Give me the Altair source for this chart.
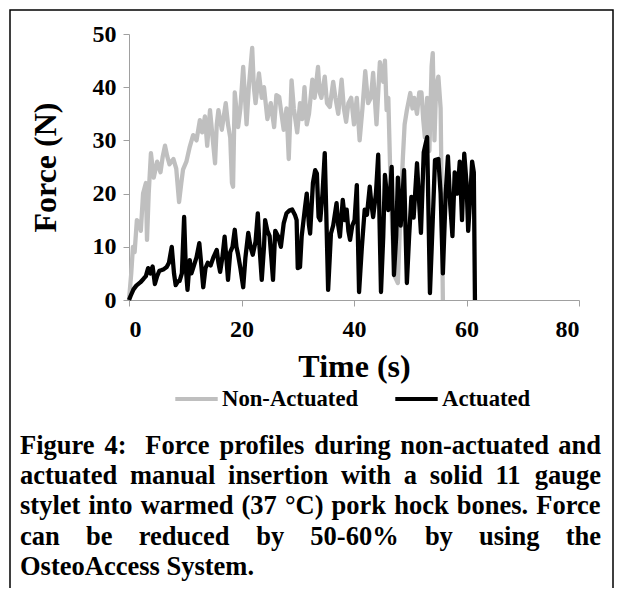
import altair as alt
import pandas as pd

# ---------------- data ----------------
t_non = [0, 0.4, 0.7, 1.0, 1.4, 1.8, 2.1, 2.5, 3.0, 3.2, 3.5, 3.9, 4.4, 5.0, 5.6, 6.0, 6.4, 6.8,
         7.2, 7.9, 8.4, 8.9, 9.3, 9.6, 10.2, 10.8, 11.4, 12.0, 12.6, 13.0, 13.5, 13.9, 14.4,
         15.0, 15.3, 15.6, 15.9, 16.5, 17.2, 17.6, 18.0, 18.3, 18.5, 18.8, 19.4, 19.8, 20.3,
         20.9, 21.3, 21.9, 22.2, 22.5, 23.1, 23.6, 24.0, 24.6, 25.2, 25.8, 26.2, 26.7, 27.1,
         27.5, 28.0, 28.4, 28.9, 29.3, 29.9, 30.4, 30.8, 31.2, 31.6, 32.0, 32.6, 33.0, 33.6,
         33.9, 34.2, 34.8, 35.2, 35.7, 36.3, 36.7, 37.2, 37.8, 38.2, 38.6, 39.0, 39.5, 40.0,
         40.5, 41.0, 41.5, 42.0, 42.5, 43.0, 43.4, 44.0, 44.6, 45.2, 45.5, 45.8, 46.1, 46.4,
         46.8, 47.3, 47.8, 48.2, 48.7, 49.0, 49.4, 50.0, 50.4, 50.7, 51.2, 51.6, 52.0, 52.3,
         52.6, 53.0, 53.4, 53.8, 54.0, 54.3, 54.6, 55.0, 55.4, 55.8]
f_non = [0, 5, 10, 9, 15, 14.5, 13, 20, 22, 11.3, 20, 27.6, 23, 26, 24, 27, 29, 27,
         25.5, 26.5, 24.7, 18.4, 22, 24.5, 26, 28.8, 31, 30, 33.8, 31.5, 34.5, 29, 35.7,
         29, 25.7, 33, 35.7, 32, 37, 33, 30.5, 22, 21.3, 39, 32.5, 36, 43.8,
         33, 40, 47.4, 40, 37, 42.6, 38, 40, 34, 37, 32.5, 38.5, 38.2, 35,
         32, 36, 26.5, 41.3, 36, 31.5, 37, 34, 40, 33, 35, 41.4, 38, 43.8,
         39, 38, 42, 37, 36.3, 41, 38, 35, 41.4, 36, 33.5, 37, 38, 33,
         38, 30, 36, 43, 37, 38, 42.7, 33, 44.7, 41, 45, 35.7, 38, 25.7,
         13, 4.3, 3.2, 15, 27, 33, 35.7, 38.9, 36, 38, 35, 39, 39, 34,
         30.6, 38, 28, 44, 46.4, 30, 40, 42, 36, 0]

t_act = [0, 0.3, 0.8, 1.3, 2.0, 2.6, 3.0, 3.4, 3.8, 4.2, 4.6, 5.0, 5.4, 5.7, 6.2, 6.7, 7.1,
         7.6, 8.0, 8.3, 8.7, 9.0, 9.4, 9.8, 10.1, 10.4, 10.8, 11.1, 11.4, 12.0, 12.5, 12.9,
         13.2, 13.6, 14.0, 14.5, 15.0, 15.6, 15.9, 16.2, 16.6, 17.0, 17.3, 17.6, 18.0, 18.4,
         18.8, 19.1, 19.4, 19.8, 20.3, 20.7, 21.2, 21.6, 22.0, 22.5, 22.9, 23.2, 23.6, 24.0,
         24.2, 24.6, 25.0, 25.3, 25.6, 26.0, 26.5, 27.0, 27.5, 28.0, 28.5, 29.0, 29.5, 29.8,
         30.0, 30.4, 30.7, 31.3, 31.6, 32.0, 32.2, 32.7, 33.1, 33.4, 33.7, 34.0, 34.4, 34.8,
         35.1, 35.4, 35.9, 36.3, 36.9, 37.2, 37.5, 38.0, 38.4, 38.7, 39.0, 39.3, 39.7, 40.1,
         40.5, 40.9, 41.4, 41.9, 42.3, 42.8, 43.1, 43.4, 43.9, 44.3, 44.8, 45.2, 45.5, 46.1,
         46.4, 46.7, 47.1, 47.5, 47.8, 48.3, 48.9, 49.4, 49.8, 50.2, 50.6, 51.2, 51.6, 51.9,
         52.4, 53.0, 53.5, 54.0, 54.4, 55.0, 55.4, 55.8, 56.3, 56.7, 57.1, 57.5, 57.9, 58.4,
         58.8, 59.2, 59.6, 60.0, 60.3, 60.7, 61.0, 61.3, 61.5]
f_act = [0, 0.8, 2, 2.7, 3.3, 4, 4.5, 6, 5, 6.3, 3, 4.5, 5.5, 5.6, 5.8, 6.2, 7,
         10, 5, 2.8, 3.5, 3.6, 5, 15.6, 6, 1.9, 7.5, 5, 6, 8, 10.7, 6,
         2.4, 6, 7, 6.5, 8, 9.4, 7, 5.3, 8, 11.9, 8, 3.8, 9, 10,
         13.2, 10, 8.5, 6, 2.4, 8, 12.6, 10, 8.5, 11, 16.3, 10, 3.8, 10,
         15, 13, 12, 8, 3.8, 13, 12, 10, 14.4, 16.3, 16.8, 17, 16, 15,
         6, 6.2, 12, 17.5, 20, 14, 12.5, 22, 24.4, 23.8, 15.6, 15, 20, 27.6,
         15, 1.9, 12.5, 14, 18.2, 14, 11.9, 18.8, 15, 17, 13, 11.3, 14, 15,
         21.6, 1.5, 10, 17, 16, 21.3, 18, 15.6, 20, 27.3, 1.5, 12, 23.5, 16.9,
         20, 25, 4.7, 12, 23, 14, 24.4, 3.2, 12, 19.4, 15.5, 25.7, 18, 12.6,
         27.8, 30.6, 1.3, 15, 26.3, 26.5, 20, 5, 20, 27, 18, 12, 24, 20,
         26, 15, 27.5, 22, 13, 20, 26, 24, 0]

series_names = ["Non-Actuated", "Actuated"]
series_colors = ["#BFBFBF", "#000000"]
x_ticks = [0, 20, 40, 60, 80]
y_ticks = [0, 10, 20, 30, 40, 50]
x_title = "Time (s)"
y_title = "Force (N)"
caption_lines = [
    "Figure 4:  Force profiles during non-actuated and",
    "actuated manual insertion with a solid 11 gauge",
    "stylet into warmed (37 °C) pork hock bones. Force",
    "can be reduced by 50-60% by using the",
    "OsteoAccess System.",
]

# ---------------- layout ----------------
PAD_L, PAD_T = 121, 26
W, H = 450, 266
TOTAL_W, TOTAL_H = 606, 580
SERIF = "Liberation Serif"

df_non = pd.DataFrame({"t": t_non, "f": f_non, "series": series_names[0]})
df_act = pd.DataFrame({"t": t_act, "f": f_act, "series": series_names[1]})

color_scale = alt.Scale(domain=series_names, range=series_colors)

x_enc = alt.X("t:Q", scale=alt.Scale(domain=[0, 80], nice=False, zero=False),
              axis=alt.Axis(values=x_ticks, title=x_title, titleX=W / 2, titleY=66,
                            titleBaseline="middle", titleAlign="center"))
y_enc = alt.Y("f:Q", scale=alt.Scale(domain=[0, 50], nice=False),
              axis=alt.Axis(values=y_ticks, title=y_title, titleX=-84, titleY=H / 2,
                            titleAngle=270, titleBaseline="middle", titleAlign="center"))
color_enc = alt.Color("series:N", scale=color_scale,
                      legend=alt.Legend(orient="none", legendX=44, legendY=341,
                                        direction="horizontal", title=None,
                                        symbolType="stroke", symbolSize=1800,
                                        symbolStrokeWidth=4, labelFont=SERIF,
                                        labelFontWeight="bold", labelFontSize=22.7,
                                        labelColor="black", labelOffset=2,
                                        columnPadding=28, labelLimit=400))

line_non = alt.Chart(df_non).mark_line(strokeWidth=4.3, strokeJoin="round").encode(
    x=x_enc, y=y_enc, color=color_enc)
line_act = alt.Chart(df_act).mark_line(strokeWidth=4.3, strokeJoin="round").encode(
    x="t:Q", y="f:Q", color="series:N")

dummy = pd.DataFrame({"a": [0]})
box = alt.Chart(dummy).mark_rect(filled=False, stroke="black", strokeWidth=1.5).encode(
    x=alt.value(-119), x2=alt.value(484), y=alt.value(-24), y2=alt.value(575))

# justified caption (Times-bold metric widths)
WID = {' ': 250, '(': 333, ')': 333, '%': 1000, '-': 333, '.': 250, ':': 333, '°': 400,
       'A': 722, 'C': 722, 'F': 611, 'O': 778, 'S': 556, 'T': 667, 'N': 722,
       'a': 500, 'b': 556, 'c': 444, 'd': 556, 'e': 444, 'f': 333, 'g': 500, 'h': 556,
       'i': 278, 'j': 333, 'k': 556, 'l': 278, 'm': 833, 'n': 556, 'o': 500, 'p': 556,
       'q': 556, 'r': 444, 's': 389, 't': 333, 'u': 556, 'v': 500, 'w': 722, 'x': 500,
       'y': 500, 'z': 444}
CAP_FS = 26.5
def tw(s):
    return sum(WID.get(c, 500) for c in s) / 1000 * CAP_FS

cap_left = 20 - 8 - PAD_L
cap_right = 601 - 8 - PAD_L
cap_base = [454, 484, 514, 545, 575]
layers = [box, line_non, line_act]
for i, line in enumerate(caption_lines):
    y = cap_base[i] - 8 - PAD_T
    if i < len(caption_lines) - 1:
        words = line.split(" ")
        total = sum(tw(w) for w in words)
        gap = (cap_right - cap_left - total) / (len(words) - 1)
        x = cap_left
        for w in words:
            if w:
                layers.append(alt.Chart(dummy).mark_text(
                    align="left", baseline="alphabetic", font=SERIF, fontWeight="bold",
                    fontSize=CAP_FS, color="black").encode(
                    x=alt.value(x), y=alt.value(y), text=alt.value(w)))
            x += tw(w) + gap
    else:
        layers.append(alt.Chart(dummy).mark_text(
            align="left", baseline="alphabetic", font=SERIF, fontWeight="bold",
            fontSize=CAP_FS, color="black").encode(
            x=alt.value(cap_left), y=alt.value(y), text=alt.value(line)))

chart = alt.layer(*layers).properties(
    width=W, height=H,
    autosize=alt.AutoSizeParams(type="none"),
    padding={"left": PAD_L, "top": PAD_T, "right": TOTAL_W - PAD_L - W,
             "bottom": TOTAL_H - PAD_T - H},
).configure_view(stroke=None).configure_axis(
    domainColor="#A0A0A0", tickColor="#A0A0A0", tickSize=6, grid=False,
    labelFont=SERIF, labelFontWeight="bold", labelFontSize=24, labelColor="black",
    titleFont=SERIF, titleFontWeight="bold", titleFontSize=32, titleColor="black",
).configure_axisX(labelPadding=11).configure_axisY(labelPadding=7)

chart.save("out.html", embed_options={"renderer": "svg", "actions": False})
